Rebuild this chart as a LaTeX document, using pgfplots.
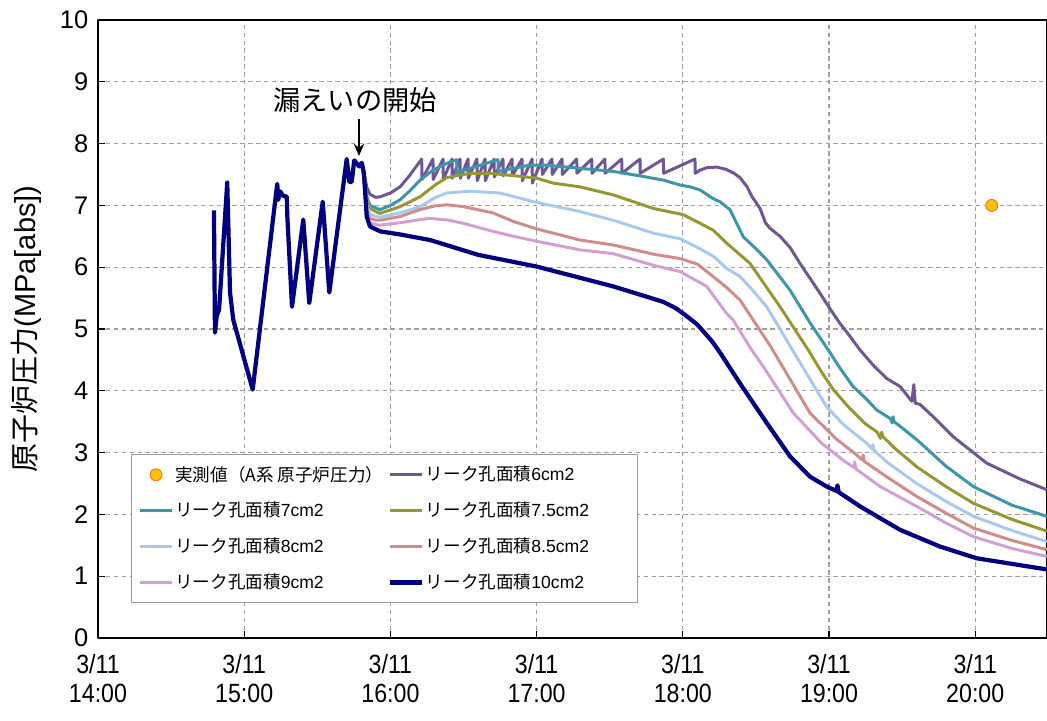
\documentclass[border=0pt]{standalone}
\usepackage{fontspec}
\setmainfont{Liberation Sans}
\newfontfamily\jp{Noto Sans CJK JP}
\newfontfamily\narrow[FakeStretch=0.88]{Liberation Sans}
\usepackage{pgfplots}
\pgfplotsset{compat=1.18}
\usetikzlibrary{arrows.meta}

\definecolor{c6}{RGB}{112,86,151}
\definecolor{c7}{RGB}{60,150,172}
\definecolor{c75}{RGB}{152,152,50}
\definecolor{c8}{RGB}{166,202,240}
\definecolor{c85}{RGB}{210,140,140}
\definecolor{c9}{RGB}{212,160,212}
\definecolor{c10}{RGB}{0,0,128}
\definecolor{dotfill}{RGB}{255,192,0}
\definecolor{dotdraw}{RGB}{255,110,20}

\begin{document}
\begin{tikzpicture}
  \path[use as bounding box] (-1.96cm,-1.64cm) rectangle (18.98cm,12.76cm);
  \begin{axis}[
    at={(0,0)}, anchor=south west,
    scale only axis,
    width=18.98cm, height=12.36cm,
    xmin=14, xmax=20.491,
    ymin=0, ymax=10,
    xtick={14,15,16,17,18,19,20},
    xticklabels={3/11\\14:00,3/11\\15:00,3/11\\16:00,3/11\\17:00,3/11\\18:00,3/11\\19:00,3/11\\20:00},
    xticklabel style={align=center, font=\narrow\fontsize{15}{16.5}\selectfont, yshift=-6pt},
    ytick={0,1,...,10},
    yticklabel style={font=\fontsize{14.5}{17}\selectfont, xshift=-2pt},
    /pgf/number format/assume math mode=true,
    xtick pos=bottom, ytick pos=left,
    tick align=inside,
    major tick length=4pt,
    tick style={black, line width=0.6pt},
    axis line style={line width=1.1pt},
    grid=major,
    grid style={gray!75, line width=0.6pt, dash pattern=on 2.5pt off 2pt},
    ylabel={{\jp 原子炉圧力}(MPa[abs])},
    ylabel style={at={(axis description cs:-0.0759,0.5)}, anchor=center, font=\fontsize{16.5}{19}\selectfont},
    legend columns=2,
    legend cell align=left,
    legend image code/.code={\draw[mark repeat=2, mark phase=2, #1] plot coordinates {(0cm,0cm) (0.32cm,0cm) (0.64cm,0cm)};},
    legend style={at={(0.0348,0.2977)}, anchor=north west,
      draw=gray!80, line width=0.6pt, fill=white,
      font=\fontsize{10}{12}\selectfont,
      nodes={inner xsep=1pt},
      row sep=6.5pt, inner xsep=4pt, inner ysep=4.5pt,
      /tikz/every even column/.append style={column sep=0.06cm}},
    clip=false,
    line join=round,
    ]
    \addplot[only marks, mark=*, mark size=3.4pt, mark options={fill=dotfill, draw=dotdraw, line width=0.5pt}]
      coordinates {(20.113,7.0)};
    \addlegendentry{{\jp 実測値（A系 原子炉圧力）}}

    % 6 cm2
    \addplot[c6, line width=1.7pt] coordinates {
      (15.787,7.63)(15.804,7.69)(15.819,7.52)(15.838,7.30)(15.86,7.18)(15.90,7.13)(15.93,7.14)
      (16.00,7.20)(16.066,7.30)(16.13,7.48)
      (16.214,7.75)(16.216,7.42)(16.291,7.75)(16.293,7.42)(16.360,7.75)(16.362,7.42)
      (16.421,7.75)(16.423,7.44)(16.476,7.75)(16.478,7.44)(16.531,7.75)(16.533,7.44)
      (16.592,7.75)(16.594,7.40)(16.647,7.75)(16.649,7.40)(16.709,7.75)(16.711,7.46)
      (16.770,7.75)(16.772,7.48)(16.832,7.75)(16.834,7.48)(16.900,7.75)(16.902,7.40)
      (16.969,7.75)(16.971,7.36)(17.037,7.75)(17.039,7.50)(17.105,7.75)(17.107,7.50)
      (17.174,7.75)(17.176,7.50)(17.274,7.75)(17.276,7.52)(17.377,7.75)(17.379,7.52)
      (17.467,7.75)(17.469,7.52)(17.582,7.75)(17.584,7.52)(17.707,7.75)(17.709,7.52)
      (17.867,7.75)(17.869,7.52)(18.083,7.75)(18.085,7.52)
      (18.118,7.57)(18.163,7.61)(18.232,7.62)(18.30,7.58)(18.35,7.52)(18.391,7.45)
      (18.44,7.30)(18.471,7.15)(18.528,6.95)(18.565,6.72)(18.596,6.63)(18.665,6.50)
      (18.733,6.32)(18.802,6.06)(18.870,5.82)(18.938,5.58)(19.006,5.33)(19.075,5.09)
      (19.144,4.88)(19.212,4.66)(19.30,4.42)(19.394,4.20)(19.486,4.07)(19.566,3.83)
      (19.580,4.10)(19.590,3.80)(19.622,3.78)(19.713,3.58)(19.848,3.26)(20.078,2.83)
      (20.30,2.58)(20.489,2.40)};
    \addlegendentry{{\jp リーク孔面積}6cm2}

    % 7 cm2
    \addplot[c7, line width=1.7pt] coordinates {
      (15.787,7.63)(15.804,7.69)(15.819,7.50)(15.838,7.15)(15.86,7.00)(15.90,6.96)(15.929,6.93)
      (16.00,7.00)(16.066,7.09)(16.135,7.24)(16.203,7.41)(16.291,7.57)(16.385,7.68)
      (16.453,7.74)(16.455,7.53)(16.60,7.64)(16.736,7.74)(16.738,7.55)(16.841,7.60)
      (16.95,7.65)(17.069,7.65)(17.30,7.60)(17.523,7.55)(17.70,7.48)(17.865,7.41)
      (17.981,7.33)(18.049,7.30)(18.118,7.25)(18.207,7.11)(18.254,7.06)(18.323,6.93)
      (18.414,6.49)(18.50,6.30)(18.574,6.12)(18.733,5.63)(18.87,5.10)(18.995,4.66)
      (19.08,4.35)(19.164,4.07)(19.25,3.88)(19.326,3.69)(19.42,3.55)(19.432,3.48)
      (19.438,3.58)(19.445,3.50)(19.50,3.40)(19.60,3.21)(19.80,2.78)(19.987,2.45)
      (20.25,2.15)(20.489,1.97)};
    \addlegendentry{{\jp リーク孔面積}7cm2}

    % 7.5 cm2
    \addplot[c75, line width=1.7pt] coordinates {
      (15.787,7.63)(15.804,7.69)(15.819,7.48)(15.838,7.10)(15.86,6.95)(15.90,6.90)(15.929,6.87)
      (16.066,6.98)(16.203,7.14)(16.30,7.32)(16.385,7.45)(16.544,7.52)(16.681,7.52)
      (16.886,7.47)(17.001,7.44)(17.114,7.36)(17.297,7.30)(17.523,7.17)(17.80,6.95)
      (18.003,6.85)(18.118,6.71)(18.207,6.60)(18.30,6.39)(18.460,6.06)(18.665,5.36)
      (18.858,4.66)(18.95,4.30)(19.029,4.02)(19.14,3.72)(19.246,3.47)(19.33,3.33)
      (19.352,3.23)(19.360,3.33)(19.368,3.26)(19.45,3.07)(19.60,2.77)(19.80,2.45)
      (19.987,2.18)(20.25,1.92)(20.489,1.73)};
    \addlegendentry{{\jp リーク孔面積}7.5cm2\hspace*{0.8cm}}

    % 8 cm2
    \addplot[c8, line width=1.7pt] coordinates {
      (15.787,7.63)(15.804,7.69)(15.819,7.45)(15.838,7.00)(15.86,6.86)(15.90,6.82)(15.929,6.81)
      (16.066,6.88)(16.203,6.98)(16.30,7.12)(16.385,7.20)(16.544,7.23)(16.750,7.20)
      (16.977,7.06)(17.297,6.90)(17.523,6.76)(17.80,6.55)(17.981,6.46)(18.10,6.32)
      (18.207,6.18)(18.30,5.98)(18.391,5.85)(18.48,5.62)(18.574,5.36)(18.75,4.66)
      (18.984,3.74)(19.10,3.45)(19.258,3.15)(19.295,3.06)(19.300,3.13)(19.306,3.04)
      (19.40,2.84)(19.60,2.50)(19.80,2.21)(19.987,1.97)(20.25,1.74)(20.489,1.56)};
    \addlegendentry{{\jp リーク孔面積}8cm2}

    % 8.5 cm2
    \addplot[c85, line width=1.7pt] coordinates {
      (15.787,7.63)(15.804,7.69)(15.819,7.42)(15.838,6.92)(15.86,6.79)(15.90,6.76)(15.929,6.76)
      (16.066,6.82)(16.20,6.93)(16.30,6.99)(16.385,7.01)(16.499,6.98)(16.70,6.88)
      (16.841,6.74)(17.00,6.62)(17.297,6.44)(17.523,6.36)(17.80,6.21)(17.981,6.14)
      (18.10,6.05)(18.207,5.85)(18.30,5.67)(18.391,5.47)(18.60,4.72)(18.87,3.64)
      (19.05,3.22)(19.18,2.98)(19.228,2.88)(19.234,2.96)(19.240,2.86)(19.40,2.60)
      (19.60,2.29)(19.80,2.02)(19.987,1.78)(20.25,1.58)(20.489,1.43)};
    \addlegendentry{{\jp リーク孔面積}8.5cm2}

    % 9 cm2
    \addplot[c9, line width=1.7pt] coordinates {
      (15.787,7.63)(15.804,7.69)(15.819,7.40)(15.838,6.85)(15.86,6.72)(15.90,6.69)(15.929,6.68)
      (16.066,6.72)(16.203,6.77)(16.271,6.79)(16.40,6.76)(16.499,6.71)(16.70,6.58)
      (16.841,6.50)(17.00,6.42)(17.297,6.28)(17.523,6.22)(17.80,6.03)(17.981,5.93)
      (18.163,5.69)(18.30,5.25)(18.343,5.15)(18.471,4.66)(18.551,4.39)(18.756,3.64)
      (18.95,3.15)(19.10,2.87)(19.170,2.76)(19.176,2.85)(19.182,2.74)(19.35,2.45)
      (19.60,2.13)(19.80,1.86)(19.987,1.64)(20.25,1.45)(20.489,1.32)};
    \addlegendentry{{\jp リーク孔面積}9cm2}

    % 10 cm2
    \addplot[c10, line width=2.4pt] coordinates {
      (14.793,6.92)(14.800,4.94)(14.812,5.21)(14.828,5.31)(14.884,7.37)(14.903,5.59)
      (14.925,5.15)(15.058,4.02)(15.226,7.35)(15.233,7.09)(15.245,7.23)(15.263,7.16)
      (15.291,7.14)(15.295,6.82)(15.327,5.36)(15.404,6.77)(15.445,5.42)(15.537,7.06)
      (15.582,5.59)(15.701,7.75)(15.719,7.38)(15.735,7.38)(15.753,7.73)(15.787,7.63)
      (15.804,7.69)(15.819,7.52)(15.838,6.82)(15.86,6.66)(15.929,6.58)(16.066,6.53)
      (16.203,6.47)(16.271,6.44)(16.60,6.20)(17.001,6.01)(17.523,5.69)(17.865,5.44)
      (17.95,5.34)(18.02,5.22)(18.10,5.07)(18.20,4.80)(18.254,4.62)(18.391,4.12)
      (18.574,3.48)(18.733,2.94)(18.87,2.61)(18.984,2.45)(19.05,2.38)(19.058,2.47)
      (19.066,2.36)(19.212,2.13)(19.486,1.75)(19.759,1.48)(20.01,1.29)(20.489,1.11)};
    \addlegendentry{{\jp リーク孔面積}10cm2}

    \node[font=\jp\fontsize{15.5}{18}\selectfont] at (axis cs:15.758,8.71) {漏えいの開始};
    \draw[-{Stealth[length=7pt,width=6pt]}, line width=0.8pt] (axis cs:15.785,8.40) -- (axis cs:15.785,7.80);
  \end{axis}
\end{tikzpicture}
\end{document}
